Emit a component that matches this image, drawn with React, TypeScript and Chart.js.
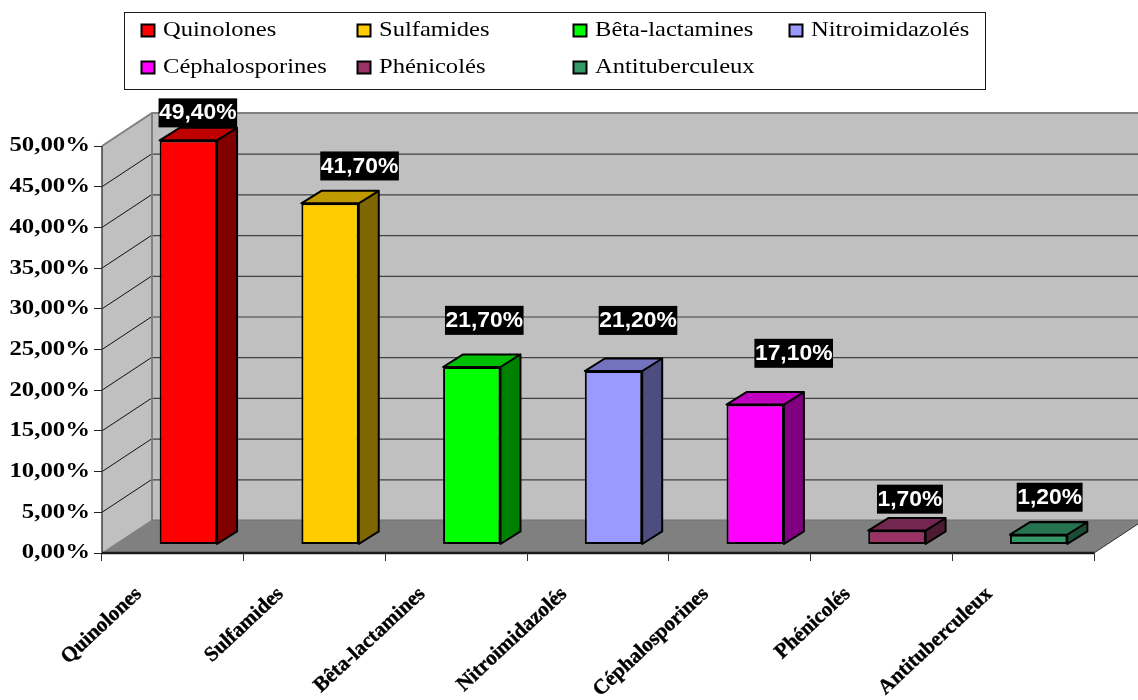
import React, { useEffect, useRef } from "react";
import { Chart, registerables } from "chart.js";

Chart.register(...registerables);

const categories = ["Quinolones", "Sulfamides", "Bêta-lactamines", "Nitroimidazolés", "Céphalosporines", "Phénicolés", "Antituberculeux"];
const values = [49.4, 41.7, 21.7, 21.2, 17.1, 1.7, 1.2];
const valueLabels = ["49,40%", "41,70%", "21,70%", "21,20%", "17,10%", "1,70%", "1,20%"];
const frontColors = ["#FF0000", "#FFCC00", "#00FF00", "#9999FF", "#FF00FF", "#993366", "#339966"];
const topColors = ["#BF0000", "#BF9900", "#00BF00", "#7373BF", "#BF00BF", "#732650", "#267350"];
const sideColors = ["#800000", "#806600", "#008000", "#4D4D80", "#800080", "#4D1A33", "#1A4D33"];
const labelOffsetX = [25, 45, 28, 40, 54, 28.5, 26.5];
const labelOffsetY = [-38, -47.6, -56, -60, -60.5, -40, -46];

const SERIF = "'Liberation Serif', 'Times New Roman', serif";
const SANS = "'Liberation Sans', Arial, sans-serif";
const WALL_DX = 50, WALL_DY = -33;
const BAR_SHIFT_X = 15.5, BAR_SHIFT_Y = -8.5, BAR_SCALE_Y = 1.005;
const BAR_DX = 20, BAR_DY = -12.5;
const Y_LABEL_STRETCH = 1.18, Y_LABEL_ANCHOR = 90;
const LEGEND_STRETCH = 1.17;

const line = (c: CanvasRenderingContext2D, pts: number[][], color: string, w: number) => {
  c.beginPath();
  pts.forEach((p, i) => (i ? c.lineTo(p[0], p[1]) : c.moveTo(p[0], p[1])));
  c.strokeStyle = color;
  c.lineWidth = w;
  c.stroke();
};
const poly = (c: CanvasRenderingContext2D, pts: number[][], fill: string) => {
  c.beginPath();
  pts.forEach((p, i) => (i ? c.lineTo(p[0], p[1]) : c.moveTo(p[0], p[1])));
  c.closePath();
  c.fillStyle = fill;
  c.fill();
};

const box3d = {
  id: "box3d",
  afterLayout(chart: any) {
    const s = chart.scales.y;
    if (s._stretched) return;
    s._stretched = true;
    const orig = s.drawLabels;
    s.drawLabels = function (area: any) {
      const c = chart.ctx as CanvasRenderingContext2D;
      c.save();
      c.translate(Y_LABEL_ANCHOR, 0);
      c.scale(Y_LABEL_STRETCH, 1);
      c.translate(-Y_LABEL_ANCHOR, 0);
      orig.call(this, area);
      c.restore();
    };
  },
  beforeDraw(chart: any) {
    const c = chart.ctx as CanvasRenderingContext2D;
    const { left, right, top, bottom } = chart.chartArea;
    const y = chart.scales.y;
    c.save();
    const L = left, R = right, T = top, B = bottom;
    const bL = L + WALL_DX, bR = R + WALL_DX, bT = T + WALL_DY, bB = B + WALL_DY;
    poly(c, [[bL, bT], [bR, bT], [bR, bB], [bL, bB]], "#C0C0C0");
    poly(c, [[L, T], [bL, bT], [bL, bB], [L, B]], "#C0C0C0");
    poly(c, [[L, B], [bL, bB], [bR, bB], [R, B]], "#808080");
    y.ticks.forEach((t: any) => {
      if (t.value <= 0 || t.value >= 50) return;
      const py = y.getPixelForValue(t.value);
      line(c, [[L, py], [bL, py + WALL_DY]], "#111111", 1);
      line(c, [[bL, py + WALL_DY + 0.5], [bR, py + WALL_DY + 0.5]], "#404040", 1.2);
    });
    line(c, [[L, T], [bL, bT], [bR, bT]], "#808080", 2);
    line(c, [[bL, bT], [bL, bB]], "#808080", 2);
    line(c, [[bL, bB], [bR, bB]], "#707070", 1);
    line(c, [[L, B], [bL, bB]], "#808080", 1);
    line(c, [[L, T], [L, B]], "#404040", 1.5);
    line(c, [[L, B], [R, B]], "#1a1a1a", 2.5);
    line(c, [[R, B], [bR, bB]], "#333333", 1);
    c.restore();
  },
  beforeDatasetDraw(chart: any) {
    const c = chart.ctx as CanvasRenderingContext2D;
    const B = chart.chartArea.bottom;
    c.save();
    c.translate(BAR_SHIFT_X, B + BAR_SHIFT_Y);
    c.scale(1, BAR_SCALE_Y);
    c.translate(0, -B);
    chart.getDatasetMeta(0).data.forEach((bar: any, i: number) => {
      const l = bar.x - bar.width / 2, r = bar.x + bar.width / 2;
      const t = bar.y, b = bar.base;
      const side = [[r, t], [r + BAR_DX, t + BAR_DY], [r + BAR_DX, b + BAR_DY], [r, b]];
      const topF = [[l, t], [l + BAR_DX, t + BAR_DY], [r + BAR_DX, t + BAR_DY], [r, t]];
      poly(c, side, sideColors[i]);
      poly(c, topF, topColors[i]);
      c.lineJoin = "round";
      c.beginPath();
      side.forEach((p, k) => (k ? c.lineTo(p[0], p[1]) : c.moveTo(p[0], p[1])));
      c.closePath();
      c.moveTo(topF[0][0], topF[0][1]);
      topF.forEach((p) => c.lineTo(p[0], p[1]));
      c.closePath();
      c.strokeStyle = "#000000";
      c.lineWidth = 2;
      c.stroke();
    });
  },
  afterDatasetDraw(chart: any) {
    chart.ctx.restore();
  },
  afterDraw(chart: any) {
    const c = chart.ctx as CanvasRenderingContext2D;
    const x = chart.scales.x, y = chart.scales.y;
    c.save();
    c.textAlign = "center";
    c.textBaseline = "middle";
    values.forEach((v, i) => {
      const cx = x.getPixelForValue(i) + labelOffsetX[i];
      const cy = y.getPixelForValue(v) + labelOffsetY[i];
      c.font = `bold 22px ${SANS}`;
      const tw = c.measureText(valueLabels[i]).width * 1.04;
      const w = tw + 1;
      c.fillStyle = "#000000";
      c.fillRect(cx - w / 2, cy - 14.5, w, 29);
      c.save();
      c.translate(cx, cy + 0.5);
      c.scale(1.04, 1);
      c.fillStyle = "#FFFFFF";
      c.fillText(valueLabels[i], 0, 0);
      c.restore();
    });

    // legend panel
    c.fillStyle = "#FFFFFF";
    c.fillRect(124.5, 12.5, 861, 77);
    c.strokeStyle = "#1a1a1a";
    c.lineWidth = 1;
    c.strokeRect(124.5, 12.5, 861, 77);
    c.textAlign = "left";
    c.font = `21px ${SERIF}`;
    categories.forEach((name, i) => {
      const col = i % 4, row = Math.floor(i / 4);
      const sx = 141.5 + col * 216, sy = 24.5 + row * 37;
      c.fillStyle = frontColors[i];
      c.fillRect(sx, sy, 13, 12);
      c.strokeStyle = "#000000";
      c.lineWidth = 2;
      c.strokeRect(sx, sy, 13, 12);
      c.save();
      c.translate(sx + 21.5, sy + 6);
      c.scale(LEGEND_STRETCH, 1);
      c.fillStyle = "#000000";
      c.fillText(name, 0, 0);
      c.restore();
    });
    c.restore();
  },
};

export default function App() {
  const ref = useRef<HTMLCanvasElement>(null);
  useEffect(() => {
    const chart = new Chart(ref.current as HTMLCanvasElement, {
      type: "bar",
      data: {
        labels: categories,
        datasets: [{
          label: "Antibiotiques",
          data: values,
          backgroundColor: frontColors,
          borderColor: "#000000",
          borderWidth: 2,
          borderSkipped: false,
          barPercentage: 0.405,
          categoryPercentage: 1,
          clip: false,
        } as any],
      },
      options: {
        responsive: false,
        animation: false,
        layout: { padding: { left: 0, right: 44, top: 146, bottom: 0 } },
        plugins: { legend: { display: false }, tooltip: { enabled: false }, title: { display: false } },
        scales: {
          x: {
            afterFit: (s: any) => { s.height = 147; },
            border: { display: false },
            grid: { drawOnChartArea: false, drawTicks: true, tickLength: 8, tickColor: "#333333", lineWidth: 1 },
            ticks: {
              autoSkip: false, minRotation: 43, maxRotation: 43, padding: 21, labelOffset: -34,
              color: "#000000",
              textStrokeColor: "#000000", textStrokeWidth: 0.4,
              font: { family: SERIF, size: 21, weight: "bold" },
            },
          },
          y: {
            min: 0, max: 50,
            afterFit: (s: any) => { s.width = 102; },
            border: { display: false },
            grid: { drawOnChartArea: false, drawTicks: true, tickLength: 8, tickColor: "#222222", lineWidth: 1 },
            ticks: {
              stepSize: 5, padding: 4,
              color: "#000000",
              font: { family: SERIF, size: 21, weight: "bold" },
              callback: (v: any) => Number(v).toFixed(2).replace(".", ",") + "%",
            },
          },
        },
      } as any,
      plugins: [box3d],
    });
    return () => chart.destroy();
  }, []);
  return (
    <div style={{ position: "absolute", left: 0, top: 0, width: 1138, height: 700, background: "#FFFFFF" }}>
      <canvas ref={ref} width={1138} height={700} style={{ display: "block" }} />
    </div>
  );
}
